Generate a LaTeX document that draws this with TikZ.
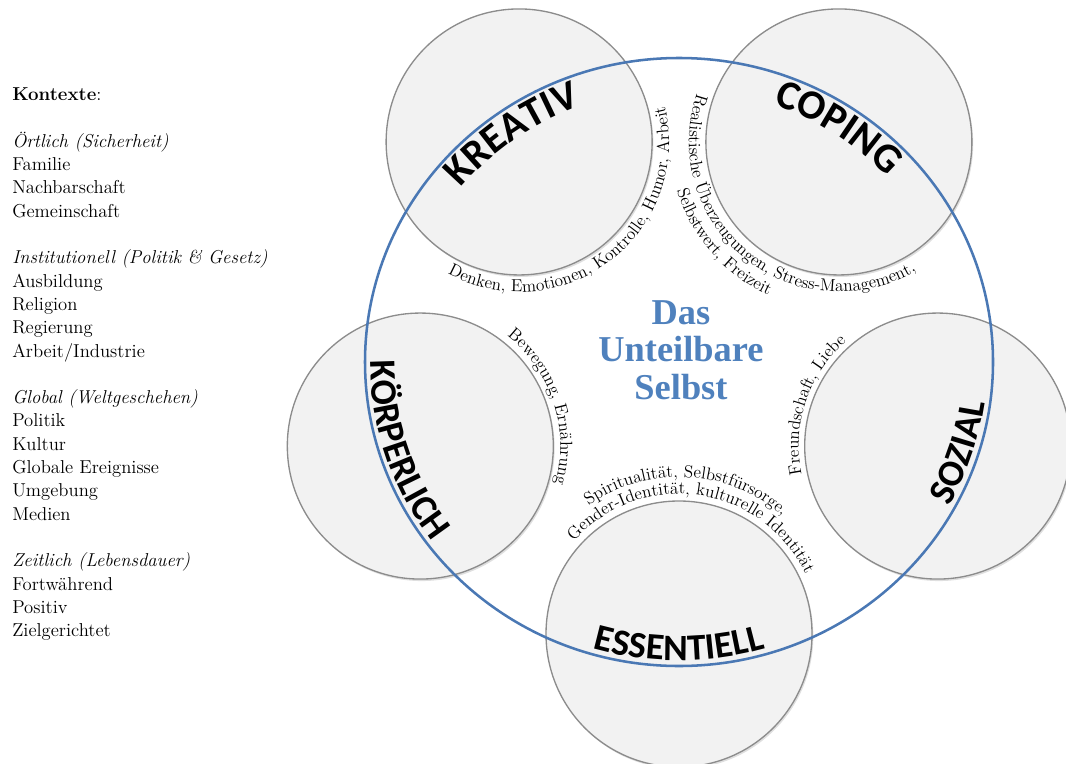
\documentclass[tikz,border=0pt]{standalone}
\usepackage{fontspec}
\newfontfamily\labelfont{Carlito}
\newfontfamily\titlefont{Liberation Serif}
\usetikzlibrary{calc,decorations.text,shadows}

\definecolor{ringblue}{RGB}{74,120,180}
\definecolor{titleblue}{RGB}{79,129,189}
\definecolor{topicgray}{RGB}{140,140,140}
\definecolor{topicfill}{RGB}{242,242,242}

\newcommand{\descfont}{\fontsize{13}{15}\selectfont}
\newcommand{\topicfont}{\labelfont\bfseries\fontsize{28}{30}\selectfont}
\newcommand{\bigtopicfont}{\labelfont\bfseries\fontsize{31}{33}\selectfont}

\begin{document}
\begin{tikzpicture}[x=0.75pt,y=0.75pt,
        ring/.style={draw=ringblue, line width=1.9pt},
        topic/.style={draw=topicgray, fill=topicfill, line width=1pt,
            drop shadow={shadow xshift=1pt, shadow yshift=-1.5pt, opacity=.25}},
        ctx/.style={anchor=base west, inner sep=0pt, font=\fontsize{14}{17}\selectfont},
        title/.style={anchor=north, align=center, inner sep=0pt, text=titleblue,
            font=\titlefont\bfseries\fontsize{27.3}{28.1}\selectfont},
        arclabel/.style={decorate, decoration={text along path, text align=center, text={|\topicfont|#1}}},
        toplabel/.style={decorate, decoration={text along path, text align=center, text={|\bigtopicfont|#1}}},
        arcnote/.style={decorate, decoration={text along path, text align=center, text={|\descfont|#1}}}]
    \clip (0,0) rectangle (1066,-763);
    % contexts on the left
    \foreach \n/\t in {0/{\textbf{Kontexte}:}, 2/{\textit{Örtlich (Sicherheit)}}, 3/{Familie},
            4/{Nachbarschaft}, 5/{Gemeinschaft}, 7/{\textit{Institutionell (Politik \& Gesetz)}},
            8/{Ausbildung}, 9/{Religion}, 10/{Regierung}, 11/{Arbeit/Industrie},
            13/{\textit{Global (Weltgeschehen)}}, 14/{Politik}, 15/{Kultur}, 16/{Globale Ereignisse},
            17/{Umgebung}, 18/{Medien}, 20/{\textit{Zeitlich (Lebensdauer)}}, 21/{Fortwährend},
            22/{Positiv}, 23/{Zielgerichtet}}
        \node[ctx] (ctx\n) at (12,{-100.7-23.3*\n}) {\t};
    % five circles round the self
    \coordinate (mid) at (679,-362);
    \foreach \name/\ang in {kreativ/126,coping/54,sozial/-18,essentiell/-90,koerper/198}
        \coordinate (\name) at ($(mid)+(\ang:272)$);
    \foreach \name in {kreativ,coping,sozial,essentiell,koerper}
        \draw[topic] (\name) circle[radius=133];
    \draw[ring] (mid) ellipse[x radius=314, y radius=304];
    \node[title] (selbst) at (681,-300.4) {Das\\Unteilbare\\Selbst};
    % names along the ring
    \path[toplabel=KREATIV] ($(mid)+(186:283 and 273)$) arc[start angle=186, end angle=66, x radius=283, y radius=273];
    \path[toplabel=COPING] ($(mid)+(116:283 and 273)$) arc[start angle=116, end angle=-4, x radius=283, y radius=273];
    \path[arclabel=KÖRPERLICH] ($(mid)+(138:308.5 and 298.5)$) arc[start angle=138, end angle=258, x radius=308.5, y radius=298.5];
    \path[arclabel=ESSENTIELL] ($(mid)+(210:308.5 and 298.5)$) arc[start angle=210, end angle=330, x radius=308.5, y radius=298.5];
    \path[arclabel=SOZIAL] ($(mid)+(-78:308.5 and 298.5)$) arc[start angle=-78, end angle=42, x radius=308.5, y radius=298.5];
    % notes round each circle
    \path[arcnote={Denken, Emotionen, Kontrolle, Humor, Arbeit}] ($(kreativ)+(217.7:150)$) arc[start angle=217.7, end angle=397.7, radius=150];
    \path[arcnote={Realistische Überzeugungen, Stress-Management,}] ($(coping)+(141:150)$) arc[start angle=141, end angle=321, radius=150];
    \path[arcnote={Selbstwert, Freizeit}] ($(coping)+(131:169)$) arc[start angle=131, end angle=311, radius=169];
    \path[arcnote={Bewegung, Ernährung}] ($(koerper)+(108:140)$) arc[start angle=108, end angle=-72, radius=140];
    \path[arcnote={Freundschaft, Liebe}] ($(sozial)+(251.5:139)$) arc[start angle=251.5, end angle=71.5, radius=139];
    \path[arcnote={Spiritualität, Selbstfürsorge,}] ($(essentiell)+(177:157)$) arc[start angle=177, end angle=-3, radius=157];
    \path[arcnote={Gender-Identität, kulturelle Identität}] ($(essentiell)+(172:140)$) arc[start angle=172, end angle=-8, radius=140];
\end{tikzpicture}
\end{document}
